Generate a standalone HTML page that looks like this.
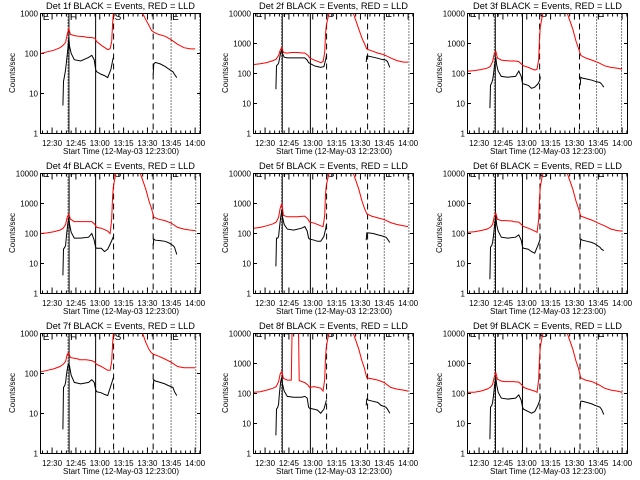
<!DOCTYPE html>
<html><head><meta charset="utf-8"><style>
html,body{margin:0;padding:0;background:#fff;}
svg{display:block;font-family:"Liberation Sans",sans-serif;}
</style></head><body>
<svg id="chart" width="640" height="480" viewBox="0 0 640 480" xmlns="http://www.w3.org/2000/svg"></svg>
<script>
// ---- data ----
const detectors = ["1f","2f","3f","4f","5f","6f","7f","8f","9f"];
const decadesPerPanel = [3,4,4,4,4,4,3,4,4];
const xTickLabels = ["12:30","12:45","13:00","13:15","13:30","13:45","14:00"];
const xTickMinutes = [7,22,37,52,67,82,97];
const redTimes = [0,4,8,12,14,15.5,16.5,17.5,18.5,21,23.5,24,28,28.5,32,34,35,38,42,43.5,44.5,45,45.5,46.5,47.5,55,62.5,64,66,68,69.5,71,74,78,82,86,90,94,97];
const red1 = [100,110,120,140,160,190,300,420,300,280,270,270,260,255,250,240,200,160,125,130,200,500,1000,3000,8000,30000,3000,1000,700,500,380,340,300,270,220,170,140,130,130];
const red2 = [200,210,230,270,300,400,600,750,500,480,500,500,500,490,480,400,330,280,230,250,500,2000,4000,7000,12000,30000,10000,6000,3000,1500,1000,650,570,480,420,330,270,240,240];
const red3 = [120,125,135,150,170,250,450,550,330,280,270,270,260,265,250,200,180,160,130,140,300,1500,3500,7000,12000,30000,10000,6000,3000,1200,700,400,330,280,230,180,160,150,140];
const red4 = [100,105,115,130,150,200,350,450,300,250,250,250,250,250,250,200,160,150,120,100,300,1500,3500,7000,12000,30000,10000,6000,3000,1200,700,350,300,270,220,160,140,130,125];
const red5 = [150,160,180,210,240,350,700,1000,400,360,360,360,360,370,380,300,240,220,180,170,400,2000,4000,7000,12000,30000,10000,6000,3000,1200,700,450,380,330,290,230,200,180,170];
const red6 = [110,115,125,140,160,200,350,480,300,270,270,270,260,250,240,190,170,150,120,110,300,1500,3500,7000,12000,30000,10000,6000,3000,1200,700,380,330,280,220,180,140,125,120];
const red7 = [110,120,130,150,170,200,300,330,250,240,230,220,220,220,210,190,170,150,120,120,200,500,1000,3000,8000,30000,3000,1000,600,400,330,300,270,230,190,150,140,140,140];
const red8 = [110,115,130,150,170,250,450,550,320,280,280,15000,15000,270,230,190,160,170,150,120,300,1500,3500,7000,12000,30000,10000,6000,3000,1200,700,330,310,280,230,160,140,130,120];
const red9 = [110,110,120,140,160,200,350,500,300,260,250,250,250,250,240,190,160,140,120,110,300,1500,3500,7000,12000,30000,10000,6000,3000,1200,700,330,280,250,200,150,130,120,110];
const blackTimesA = [13.8,14.2,15,15.5,16,16.8,17.5,18,19,21,25,30,32,33.5,34.4,35,38,40,42,44,45.2,45.6];
const blackTimesB = [70.6,71,72,75,78,80,83,84,85.5];
const blackA1 = [5,20,30,40,60,120,250,150,100,70,65,80,90,70,40,35,30,28,25,40,70,80];
const blackB1 = [30,55,60,55,48,42,35,30,25];
const blackA2 = [30,180,200,220,300,500,600,450,350,330,330,330,330,280,230,220,180,170,160,170,300,400];
const blackB2 = [240,380,380,350,320,300,280,250,160];
const blackA3 = [7,40,50,60,90,200,350,200,120,80,75,80,120,80,45,45,40,32,35,45,60,80];
const blackB3 = [40,75,70,65,60,55,50,45,35];
const blackA4 = [4,30,35,40,80,200,350,200,110,70,70,75,100,60,35,32,32,25,30,50,70,80];
const blackB4 = [40,65,60,58,55,50,40,35,20];
const blackA5 = [8,70,70,80,150,350,600,350,200,140,130,150,170,120,70,65,60,55,55,80,150,200];
const blackB5 = [60,105,105,100,90,85,75,65,50];
const blackA6 = [3,35,40,50,80,200,400,200,120,75,70,75,90,60,35,32,30,25,22,40,60,80];
const blackB6 = [35,65,60,55,50,45,35,30,27];
const blackA7 = [4,45,50,60,90,150,180,150,90,60,55,60,70,60,40,35,33,30,28,50,70,80];
const blackB7 = [40,70,65,60,55,50,45,35,28];
const blackA8 = [4,30,35,45,100,250,350,200,120,80,75,75,80,70,35,32,30,28,22,30,50,60];
const blackB8 = [40,65,60,55,50,40,35,30,22];
const blackA9 = [3,35,40,50,80,200,350,200,110,70,65,70,90,60,35,30,25,22,25,40,60,80];
const blackB9 = [35,55,55,50,45,40,35,30,20];
// event times (minutes after 12:23): dotted, solid, solid, dashed, dashed, dotted, dotted
const eventTimes = [
 [17,17.6,34.4,45.7,70.6,81.9,100],
 [17.4,17.8,35.5,45.7,71.5,82,97.5],
 [16.6,17.2,34.3,45.1,70.2,80.9,96.6],
 [17,17.7,34.4,45.7,70.6,81.9,97.4],
 [17.4,17.8,35.5,45.7,71.5,82,97.5],
 [16.6,17.3,34.3,45.3,70.5,81,97],
 [17,17.7,34.4,45.7,70.6,81.9,97.4],
 [17.4,17.8,35.5,45.7,71.5,82,97.5],
 [16.8,17.3,34.3,45.3,70.5,81,97]
];
const redSeries = [red1,red2,red3,red4,red5,red6,red7,red8,red9];
const blackASeries = [blackA1,blackA2,blackA3,blackA4,blackA5,blackA6,blackA7,blackA8,blackA9];
const blackBSeries = [blackB1,blackB2,blackB3,blackB4,blackB5,blackB6,blackB7,blackB8,blackB9];

// ---- drawing ----
const NS = "http://www.w3.org/2000/svg";
const svg = document.getElementById("chart");
function mk(tag, attrs, parent){ const e=document.createElementNS(NS,tag); for(const k in attrs) e.setAttribute(k,attrs[k]); (parent||svg).appendChild(e); return e; }
const L=40, R=201, T=13.5, B=133.5, T0=-0.6, T1=100.7;
const colX=[0,213,427], rowY=[0,160,320];

for(let p=0;p<9;p++){
  const ox=colX[p%3], oy=rowY[Math.floor(p/3)];
  const dec=decadesPerPanel[p];
  const xs=t=>ox+L+(t-T0)/(T1-T0)*(R-L);
  const ys=v=>oy+B-Math.log10(Math.max(v,0.5))/dec*(B-T);
  const g=mk("g",{});
  
  
  const cp=mk("clipPath",{id:"clip"+p},g);
  mk("rect",{x:ox+L,y:oy+T,width:R-L,height:B-T},cp);

  const title=mk("text",{x:ox+46,y:oy+9,"font-size":9,textLength:149,lengthAdjust:"spacingAndGlyphs",fill:"#000"},g);
  title.textContent="Det "+detectors[p]+" BLACK = Events, RED = LLD";
  
  

  const frame=mk("rect",{x:ox+L+0.5,y:oy+T,width:R-L-1,height:B-T,fill:"none",stroke:"#000","stroke-width":1},g);
  
  

  // y ticks
  for(let d=0; d<=dec; d++){
    const y=ys(Math.pow(10,d));
    mk("line",{x1:ox+L,x2:ox+L+4,y1:y,y2:y,stroke:"#000"},g);
    mk("line",{x1:ox+R-4,x2:ox+R,y1:y,y2:y,stroke:"#000"},g);
    const lb=mk("text",{x:ox+38,y:y+3,"font-size":8,"text-anchor":"end",fill:"#000"},g);
    lb.textContent=String(Math.pow(10,d));
    
    
  }
  const yt=mk("text",{transform:`translate(${ox+15},${oy+73}) rotate(-90)`,"font-size":8,"text-anchor":"middle",textLength:40,lengthAdjust:"spacingAndGlyphs",fill:"#000"},g);
  yt.textContent="Counts/sec";
  
  

  // x ticks
  for(let m=1;m<=100;m+=3){
    const x=xs(m), major=((m-7)%15===0);
    const len=major?6:3;
    mk("line",{x1:x,x2:x,y1:oy+B,y2:oy+B-len,stroke:"#000"},g);
    mk("line",{x1:x,x2:x,y1:oy+T,y2:oy+T+len,stroke:"#000"},g);
  }
  xTickLabels.forEach((s,i)=>{
    const lb=mk("text",{x:xs(xTickMinutes[i]),y:oy+146,"font-size":8,"text-anchor":"middle",fill:"#000"},g);
    lb.textContent=s;
    
    
  });
  const xt=mk("text",{x:ox+63,y:oy+154,"font-size":8,textLength:116,lengthAdjust:"spacingAndGlyphs",fill:"#000"},g);
  xt.textContent="Start Time (12-May-03 12:23:00)";
  
  

  const inner=mk("g",{"clip-path":`url(#clip${p})`},g);
  // event lines
  const ev=eventTimes[p];
  const styles=["1,2","","","6,4","6,4","1,2","1,2"];
  ev.forEach((t,i)=>{
    const ln=mk("line",{x1:xs(t),x2:xs(t),y1:oy+T,y2:oy+B,stroke:"#000","stroke-width":1},inner);
    if(styles[i]) ln.setAttribute("stroke-dasharray",styles[i]);
    
    
  });
  // letters
  const letters=[["E",0.5],["F",ev[1]],["S",ev[3]],["E",ev[5]]];
  letters.forEach(([c,t])=>{
    const tx=mk("text",{x:xs(t)+1,y:oy+(dec===3?20:17),"font-size":10,fill:"#000"},inner);
    tx.textContent=c;
    
    
  });
  // series
  const pathOf=(ts,vs)=>ts.map((t,i)=>(i?"L":"M")+xs(t).toFixed(1)+","+ys(vs[i]).toFixed(1)).join("");
  const rp=mk("path",{d:pathOf(redTimes,redSeries[p]),fill:"none",stroke:"#ff0000","stroke-width":1},inner);
  
  
  const ba=mk("path",{d:pathOf(blackTimesA,blackASeries[p]),fill:"none",stroke:"#000","stroke-width":1},inner);
  
  
  const bb=mk("path",{d:pathOf(blackTimesB,blackBSeries[p]),fill:"none",stroke:"#000","stroke-width":1},inner);
  
  
}
</script>
</body></html>
